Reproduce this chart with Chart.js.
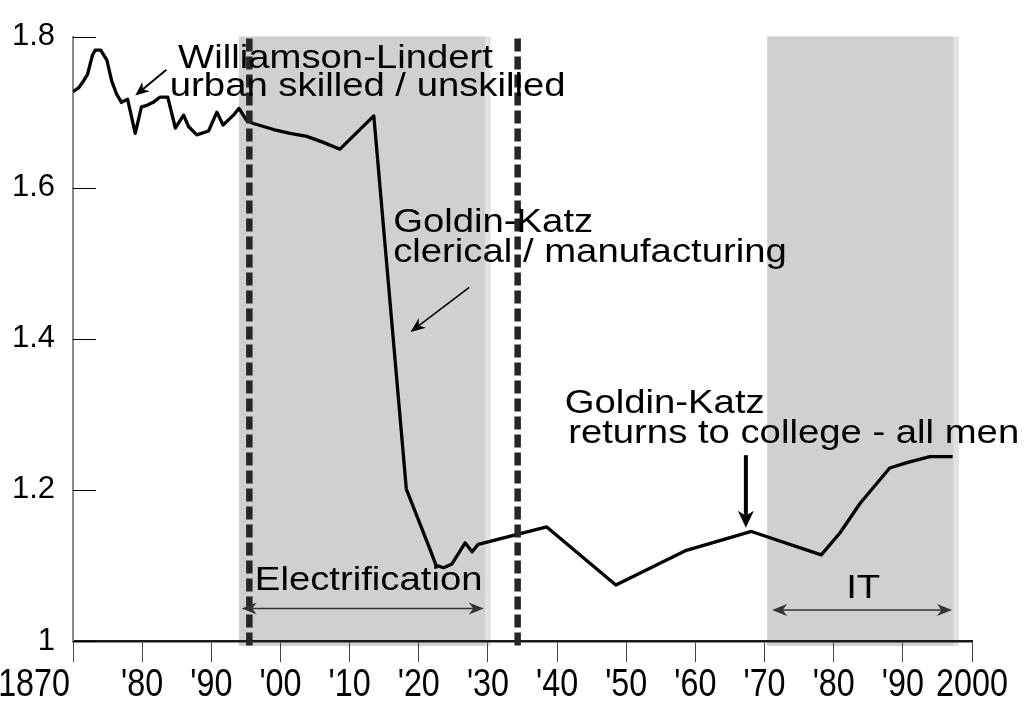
<!DOCTYPE html>
<html>
<head>
<meta charset="utf-8">
<script src="https://cdn.jsdelivr.net/npm/chart.js@4"></script>
<style>
  html, body { margin: 0; padding: 0; background: #fff; }
  #wrap { width: 1026px; height: 708px; }
</style>
</head>
<body>
<div id="wrap"><canvas id="premiumChart" width="1026" height="708"></canvas></div>
<script>
// Skill premium series
const years = [1870, 1870.8, 1871.5, 1872.1, 1872.8, 1873.2, 1874, 1874.9, 1875.6, 1876.3,
  1877, 1877.9, 1879, 1879.9, 1880.7, 1881.6, 1882.6, 1883.7, 1884.8, 1886,
  1886.7, 1887.9, 1889.6, 1890.8, 1891.7, 1893.2, 1894, 1895.1, 1896.1, 1899,
  1901.4, 1903.8, 1906.2, 1908.6, 1913.5, 1918.2, 1921.6, 1922.5, 1923.6, 1924.8,
  1926.7, 1927.7, 1928.6, 1938.5, 1948.5, 1958.7, 1968.1, 1978.2, 1980.9, 1983.8,
  1988.1, 1990.6, 1993.9, 1997.2];
const premium = [1.727, 1.732, 1.741, 1.750, 1.775, 1.782, 1.782, 1.769, 1.741, 1.724,
  1.713, 1.717, 1.672, 1.707, 1.709, 1.713, 1.720, 1.720, 1.679, 1.696,
  1.681, 1.670, 1.675, 1.700, 1.683, 1.696, 1.705, 1.689, 1.685, 1.677,
  1.672, 1.668, 1.660, 1.651, 1.695, 1.201, 1.122, 1.100, 1.097, 1.102,
  1.130, 1.118, 1.128, 1.151, 1.074, 1.120, 1.145, 1.114, 1.143, 1.182,
  1.229, 1.236, 1.244, 1.244];

// Axis ticks
const xTicks = [1870, 1880, 1890, 1900, 1910, 1920, 1930, 1940, 1950, 1960, 1970, 1980, 1990, 2000];
const xTickLabels = ['1870', "'80", "'90", "'00", "'10", "'20", "'30", "'40", "'50", "'60", "'70", "'80", "'90", '2000'];
const yTicks = [1, 1.2, 1.4, 1.6, 1.8];
const yTickLabels = ['1', '1.2', '1.4', '1.6', '1.8'];

// Shaded periods (Electrification, IT) and dashed markers
const shadeStart = [1894, 1970.4];
const shadeEnd = [1929.6, 1997.3];
const shadeEdge = [1930.4, 1998.1];
const dashedYears = [1895.5, 1934.3];

// Text notes: [text, year, value]
const notes = [
  ['Williamson-Lindert', 1885.2, 1.759],
  ['urban skilled / unskilled', 1884.0, 1.721],
  ['Goldin-Katz', 1916.3, 1.541],
  ['clerical / manufacturing', 1916.3, 1.501],
  ['Goldin-Katz', 1941.1, 1.302],
  ['returns to college - all men', 1941.6, 1.262],
  ['Electrification', 1896.3, 1.068],
  ['IT', 1981.8, 1.057]
];

// Arrows: [fromYear, fromValue, toYear, toValue, lineWidth, headLen, headHalf, both ends]
const arrows = [
  [1883.5, 1.756, 1879.0, 1.722, 2, 14, 6, false],
  [1927.3, 1.468, 1918.8, 1.409, 1.5, 15, 6, false],
  [1967.3, 1.246, 1967.3, 1.150, 4, 17, 8, false],
  [1894.4, 1.043, 1929.4, 1.043, 1.5, 15, 6, true],
  [1971.1, 1.041, 1997.1, 1.041, 1.5, 15, 6, true]
];

const FONT = '"Liberation Sans", Arial, sans-serif';
const STRETCH = 1.16;

function arrowHead(ctx, x0, y0, x1, y1, len, half) {
    const a = Math.atan2(y1 - y0, x1 - x0);
    ctx.beginPath();
    ctx.moveTo(x1, y1);
    ctx.lineTo(x1 - len * Math.cos(a) + half * Math.sin(a), y1 - len * Math.sin(a) - half * Math.cos(a));
    ctx.lineTo(x1 - len * 0.7 * Math.cos(a), y1 - len * 0.7 * Math.sin(a));
    ctx.lineTo(x1 - len * Math.cos(a) - half * Math.sin(a), y1 - len * Math.sin(a) + half * Math.cos(a));
    ctx.closePath();
    ctx.fill();
}

const overlay = {
    id: 'overlay',
    beforeDraw(chart) {
        const { ctx, chartArea, scales: { x } } = chart;
        ctx.save();
        shadeStart.forEach((s, i) => {
            const x0 = x.getPixelForValue(s);
            const x1 = x.getPixelForValue(shadeEnd[i]);
            const x2 = x.getPixelForValue(shadeEdge[i]);
            const h = chartArea.bottom - chartArea.top + 5;
            ctx.fillStyle = '#e2e2e2';
            ctx.fillRect(x0, chartArea.top, x2 - x0, h);
            ctx.fillStyle = '#d0d0d0';
            ctx.fillRect(x0, chartArea.top, x1 - x0, h);
        });
        ctx.restore();
    },
    afterDatasetsDraw(chart) {
        const { ctx, chartArea, scales: { x, y } } = chart;
        ctx.save();

        // dashed period markers
        ctx.strokeStyle = '#262626';
        ctx.lineWidth = 6.5;
        ctx.setLineDash([13, 5]);
        dashedYears.forEach(yr => {
            const px = x.getPixelForValue(yr);
            ctx.beginPath();
            ctx.moveTo(px, chartArea.top + 2);
            ctx.lineTo(px, chartArea.bottom + 7);
            ctx.stroke();
        });
        ctx.setLineDash([]);

        // inner tick marks on the value axis
        ctx.strokeStyle = '#000';
        ctx.lineWidth = 1;
        yTicks.forEach(v => {
            const py = Math.round(y.getPixelForValue(v)) + 0.5;
            ctx.beginPath();
            ctx.moveTo(chartArea.left, py);
            ctx.lineTo(chartArea.left + 23, py);
            ctx.stroke();
        });

        // arrows
        arrows.forEach(a => {
            const [fx, fy, tx, ty, lw, len, half, both] = a;
            const x0 = x.getPixelForValue(fx), y0 = y.getPixelForValue(fy);
            const x1 = x.getPixelForValue(tx), y1 = y.getPixelForValue(ty);
            const col = both ? '#333' : '#000';
            ctx.strokeStyle = col;
            ctx.fillStyle = col;
            ctx.lineWidth = lw;
            const ang = Math.atan2(y1 - y0, x1 - x0);
            ctx.beginPath();
            ctx.moveTo(both ? x0 + len * 0.7 * Math.cos(ang) : x0, both ? y0 + len * 0.7 * Math.sin(ang) : y0);
            ctx.lineTo(x1 - len * 0.7 * Math.cos(ang), y1 - len * 0.7 * Math.sin(ang));
            ctx.stroke();
            arrowHead(ctx, x0, y0, x1, y1, len, half);
            if (both) arrowHead(ctx, x1, y1, x0, y0, len, half);
        });

        // text notes
        ctx.fillStyle = '#000';
        ctx.font = '33px ' + FONT;
        ctx.textBaseline = 'alphabetic';
        ctx.textAlign = 'left';
        notes.forEach(n => {
            ctx.save();
            ctx.translate(x.getPixelForValue(n[1]), y.getPixelForValue(n[2]));
            ctx.scale(STRETCH, 1);
            ctx.fillText(n[0], 0, 0);
            ctx.restore();
        });

        // year labels under the axis (tall, narrow lettering)
        ctx.font = '38px ' + FONT;
        xTicks.forEach((v, i) => {
            const px = x.getPixelForValue(v);
            ctx.save();
            if (i === 0) {
                ctx.translate(px - 3, chartArea.bottom + 55);
                ctx.textAlign = 'right';
            } else {
                ctx.translate(px, chartArea.bottom + 55);
                ctx.textAlign = 'center';
            }
            ctx.scale(0.85, 1);
            ctx.fillText(xTickLabels[i], 0, 0);
            ctx.restore();
        });
        ctx.restore();
    }
};

const ctx = document.getElementById('premiumChart');

new Chart(ctx, {
    type: 'line',
    data: {
        datasets: [{
            data: years.map((yr, i) => ({ x: yr, y: premium[i] })),
            borderColor: '#000000',
            borderWidth: 3.3,
            borderJoinStyle: 'round',
            pointRadius: 0,
            tension: 0,
            fill: false
        }]
    },
    options: {
        responsive: false,
        animation: false,
        layout: { padding: { top: 21, right: 54, left: 0, bottom: 0 } },
        plugins: {
            legend: { display: false },
            tooltip: { enabled: false }
        },
        scales: {
            x: {
                type: 'linear',
                min: 1870,
                max: 2000,
                afterBuildTicks: (scale) => { scale.ticks = xTicks.map(v => ({ value: v })); },
                afterFit: (scale) => { scale.height = 67; },
                grid: { drawOnChartArea: false, drawTicks: true, tickLength: 21, color: '#444', lineWidth: 1 },
                border: { display: true, color: '#1a1a1a', width: 2.5 },
                ticks: { display: false }
            },
            y: {
                type: 'linear',
                min: 1,
                max: 1.8,
                afterBuildTicks: (scale) => { scale.ticks = yTicks.map(v => ({ value: v })); },
                afterFit: (scale) => { scale.width = 73; },
                grid: { display: false, drawTicks: false },
                border: { display: true, color: '#888', width: 2 },
                ticks: {
                    padding: 18,
                    color: '#000',
                    font: { family: FONT, size: 31 },
                    callback: (v) => yTickLabels[yTicks.indexOf(v)]
                }
            }
        }
    },
    plugins: [overlay]
});
</script>
</body>
</html>
